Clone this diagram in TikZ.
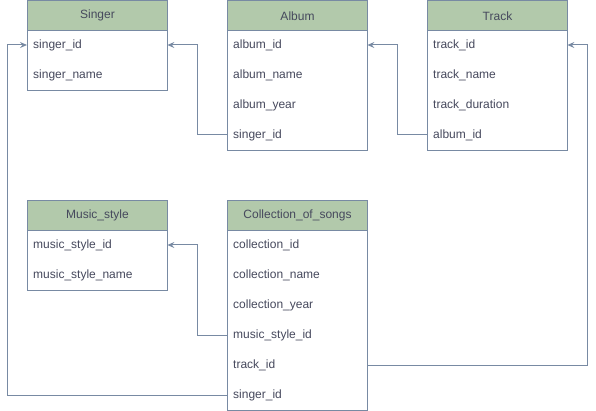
\documentclass[tikz,border=0pt]{standalone}
\usepackage{fontspec}
\setmainfont{Liberation Sans}
\usetikzlibrary{arrows.meta}
\definecolor{hdr}{HTML}{B2C9AB}
\definecolor{strk}{HTML}{788AA3}
\definecolor{txt}{HTML}{46495D}
\tikzset{
  hdrbox/.style={draw=strk, fill=hdr, line width=1pt, minimum width=140pt, minimum height=29.5pt, inner sep=0pt, text=txt, anchor=north west, font=\fontsize{12}{14}\selectfont},
  bodybox/.style={draw=strk, fill=white, line width=1pt, inner sep=0pt, anchor=north west, minimum width=140pt},
  rowbox/.style={anchor=west, minimum height=30pt, text width=128pt, inner xsep=6pt, inner ysep=0pt, align=left, text=txt, font=\fontsize{12}{14}\selectfont},
  link/.style={draw=strk, line width=1pt, -{Stealth[length=7pt,width=6pt,inset=2.5pt]}},
  plain/.style={draw=strk, line width=1pt}
}
\begin{document}
\begin{tikzpicture}[x=1pt,y=-1pt]
\useasboundingbox (0,0) rectangle (596,411);
% Singer
\node[hdrbox] (sgh) at (27,0.5) {Singer};
\node[bodybox, minimum height=60pt] (sgb) at (27,30) {};
\node[rowbox] (sgid) at (27,45) {singer\_id};
\node[rowbox] (sgname) at (27,75) {singer\_name};
% Album
\node[hdrbox] (alh) at (227,0.5) {Album};
\node[bodybox, minimum height=120pt] (alb) at (227,30) {};
\node[rowbox] (alid) at (227,45) {album\_id};
\node[rowbox] (alname) at (227,75) {album\_name};
\node[rowbox] (alyear) at (227,105) {album\_year};
\node[rowbox] (alsid) at (227,135) {singer\_id};
% Track
\node[hdrbox] (trh) at (427,0.5) {Track};
\node[bodybox, minimum height=120pt] (trb) at (427,30) {};
\node[rowbox] (trid) at (427,45) {track\_id};
\node[rowbox] (trname) at (427,75) {track\_name};
\node[rowbox] (trdur) at (427,105) {track\_duration};
\node[rowbox] (traid) at (427,135) {album\_id};
% Music_style
\node[hdrbox, minimum height=30pt] (msh) at (27,200) {Music\_style};
\node[bodybox, minimum height=60pt] (msb) at (27,230) {};
\node[rowbox] (msid) at (27,245) {music\_style\_id};
\node[rowbox] (msname) at (27,275) {music\_style\_name};
% Collection_of_songs
\node[hdrbox, minimum height=30pt] (coh) at (227,200) {Collection\_of\_songs};
\node[bodybox, minimum height=180pt] (cob) at (227,230) {};
\node[rowbox] (coid) at (227,245) {collection\_id};
\node[rowbox] (coname) at (227,275) {collection\_name};
\node[rowbox] (coyear) at (227,305) {collection\_year};
\node[rowbox] (comsid) at (227,335) {music\_style\_id};
\node[rowbox] (cotid) at (227,365) {track\_id};
\node[rowbox] (cosid) at (227,395) {singer\_id};
% connectors
\draw[link] (alsid.west) -- ++(-30,0) |- (sgid.east);
\draw[link] (traid.west) -- ++(-30,0) |- (alid.east);
\draw[link] (comsid.west) -- ++(-30,0) |- (msid.east);
\draw[link] (cotid.east) -- (587,365) |- (trid.east);
\draw[link] (cosid.west) -- (7,395) |- (sgid.west);
\end{tikzpicture}
\end{document}
